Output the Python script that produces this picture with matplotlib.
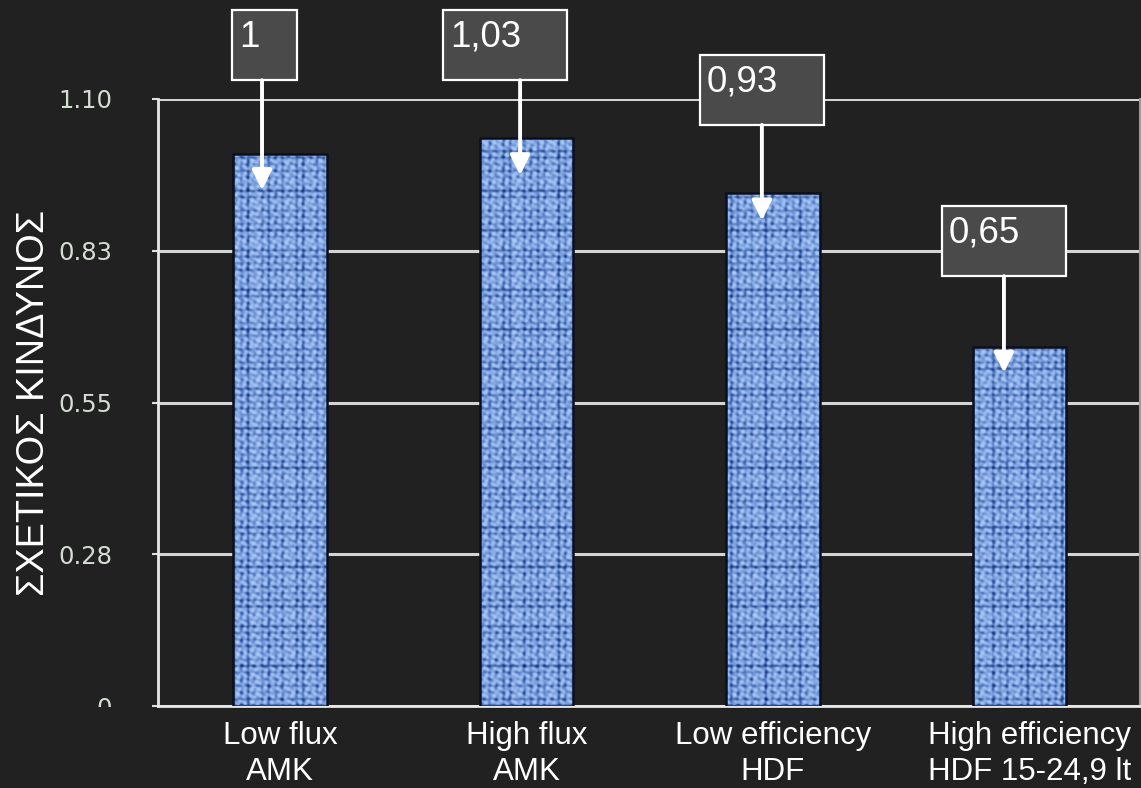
import numpy as np
import matplotlib
matplotlib.use("Agg")
import matplotlib.pyplot as plt
from matplotlib.colors import LinearSegmentedColormap
from matplotlib.patches import Rectangle
from matplotlib.path import Path
from matplotlib.transforms import Bbox, TransformedBbox, ScaledTranslation

# --- data -------------------------------------------------------------
categories = ["Low flux\nAMK", "High flux\nAMK",
              "Low efficiency\nHDF", "High efficiency\nHDF 15-24,9 lt"]
relative_risk = [1.00, 1.03, 0.93, 0.65]
ytick_values = [0, 0.275, 0.55, 0.825, 1.10]
ytick_labels = ["0", "0.28", "0.55", "0.83", "1.10"]
ylabel = "ΣΧΕΤΙΚΟΣ ΚΙΝΔΥΝΟΣ"

# --- callout layout (data units) -------------------------------------
box_left = [-0.195, 0.661, 1.704, 2.686]
box_width = [0.264, 0.503, 0.503, 0.503]
box_bottom = [1.134, 1.134, 1.053, 0.779]
box_height = 0.127
arrow_x = [-0.073, 0.974, 1.955, 2.937]
arrow_drop = [0.065, 0.068, 0.050, 0.046]

BG = "#212121"
W, H = 1141, 788
AX_L, AX_R, AX_T, AX_B = 158, 1140, 99, 706
fig = plt.figure(figsize=(W / 100, H / 100), dpi=100, facecolor=BG)
ax = fig.add_axes([AX_L / W, (H - AX_B) / H, (AX_R - AX_L) / W, (AX_B - AX_T) / H])
ax.set_facecolor(BG)

x = np.arange(len(categories))
xlim = (-0.495, 3.489)
ylim = (0, 1.10)
ax.set_xlim(*xlim)
ax.set_ylim(*ylim)

bar_w = 0.38
bars = ax.bar(x, relative_risk, width=bar_w, color="#6f93d3",
              edgecolor="none", zorder=2)

# woven fabric texture painted inside the bars:
# threads of uneven strength running both ways, plus a soft mottle
nx, ny = AX_R - AX_L, AX_B - AX_T
px = np.arange(nx)[None, :].astype(float)
py = np.arange(ny)[:, None].astype(float)
tau = 2 * np.pi
col_strength = (0.55 + 0.25 * np.sin(tau * px / 17.3 + 0.4)
                + 0.20 * np.sin(tau * px / 29.1 + 2.2))
row_strength = (0.55 + 0.25 * np.sin(tau * py / 19.7 + 1.3)
                + 0.20 * np.sin(tau * py / 33.9 + 0.8))
warp = (0.5 + 0.5 * np.cos(tau * px / 6.9)) ** 1.5 * col_strength
weft = (0.5 + 0.5 * np.cos(tau * py / 6.6)) ** 1.5 * row_strength
mott = (np.cos(tau * px / 11.3 + 0.7) * np.sin(tau * py / 13.1 + 1.9)
        + 0.6 * np.sin(tau * (px + 1.7 * py) / 9.7)
        + 0.5 * np.cos(tau * (2.1 * px - py) / 12.9))
tex = 0.62 - 0.45 * warp - 0.45 * weft + 0.14 * mott
cmap = LinearSegmentedColormap.from_list(
    "denim", ["#17336f", "#34569c", "#6a90d2", "#9dbdf0", "#b8d1f7"])
img = ax.imshow(tex, extent=(xlim[0], xlim[1], ylim[0], ylim[1]),
                aspect="auto", cmap=cmap, interpolation="nearest",
                origin="lower", zorder=2.5, vmin=-0.3, vmax=0.95)
clip_paths = []
for b in bars:
    x0, w, h = b.get_x(), b.get_width(), b.get_height()
    clip_paths.append(Path([(x0, 0), (x0 + w, 0), (x0 + w, h), (x0, h), (x0, 0)],
                           [Path.MOVETO, Path.LINETO, Path.LINETO,
                            Path.LINETO, Path.CLOSEPOLY]))
img.set_clip_path(Path.make_compound_path(*clip_paths), ax.transData)
ax.set_xlim(*xlim)
ax.set_ylim(*ylim)

ax.bar(x, relative_risk, width=bar_w, fill=False,
       edgecolor="#0b1020", linewidth=1.8, zorder=3)

# axes styling
ax.set_yticks(ytick_values)
ax.set_yticklabels(ytick_labels)
ax.set_xticks(x)
ax.set_xticklabels(categories)
ax.yaxis.grid(True, color="#d4d4d4", linewidth=2.2, zorder=0)
ax.set_axisbelow(True)
for side in ("left", "bottom"):
    ax.spines[side].set_color("#e8e8e8")
    ax.spines[side].set_linewidth(2)
ax.spines["right"].set_color("#9a9a9a")
ax.spines["right"].set_linewidth(1.5)
ax.spines["top"].set_visible(False)

ax.tick_params(axis="y", length=4, width=1.5, color="#e0e0e0", pad=29,
               labelsize=17.5, labelcolor="#d5ddd5")
ax.tick_params(axis="x", length=0, pad=11)
xlabels = ax.get_xticklabels()
for lbl in xlabels:
    lbl.set_fontfamily("Liberation Sans")
    lbl.set_fontsize(22.5)
    lbl.set_color("white")
    lbl.set_linespacing(1.24)
# the last category label sits a little to the right of its bar
xlabels[-1].set_transform(xlabels[-1].get_transform()
                          + ScaledTranslation(10 / 100, 0, fig.dpi_scale_trans))

# the zero label is cut at the baseline strip
zero_clip = TransformedBbox(Bbox([[0, (H - 707) / H], [1, 1]]), fig.transFigure)
ylabels = ax.get_yticklabels()
ylabels[0].set_clip_box(zero_clip)
ylabels[0].set_clip_on(True)

ax.set_ylabel(ylabel, fontfamily="Liberation Sans", fontsize=27.3,
              color="white", va="center")
ax.yaxis.set_label_coords((34 - AX_L) / (AX_R - AX_L), 0.5)

# value callouts
for v, bl, bw, bb, axx, drop in zip(relative_risk, box_left, box_width,
                                    box_bottom, arrow_x, arrow_drop):
    ax.add_patch(Rectangle((bl, bb), bw, box_height, facecolor="#4a4a4a",
                           edgecolor="white", linewidth=1.6, zorder=5,
                           clip_on=False))
    ax.annotate(f"{v:g}".replace(".", ","), xy=(bl, bb + box_height),
                xytext=(5, -7), textcoords="offset points",
                ha="left", va="top", fontsize=26.5, color="white",
                fontfamily="Liberation Sans", zorder=6, annotation_clip=False)
    ax.annotate("", xy=(axx, v - drop), xytext=(axx, bb),
                arrowprops=dict(arrowstyle="-|>", color="white", lw=2.8,
                                mutation_scale=30, shrinkA=0, shrinkB=0),
                zorder=6, annotation_clip=False)

fig.savefig("out.png", dpi=100, facecolor=BG)
